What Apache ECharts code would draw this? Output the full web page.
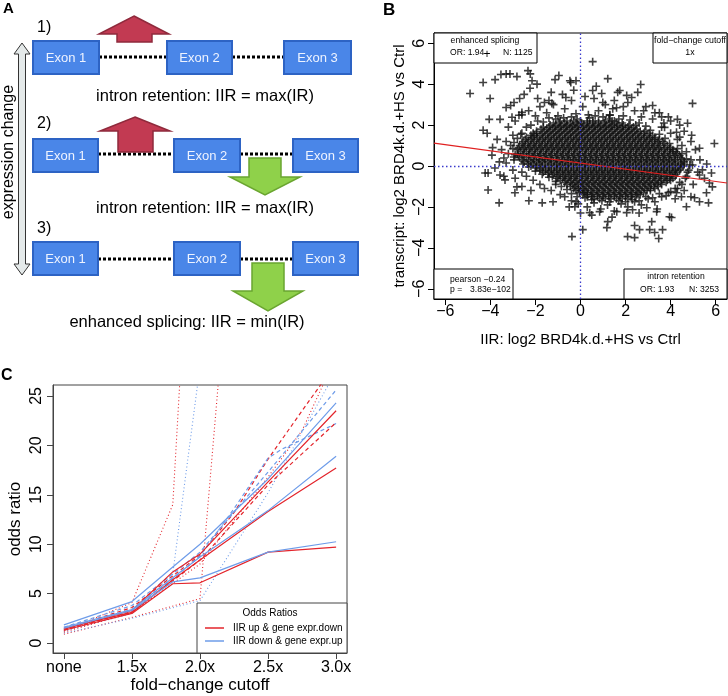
<!DOCTYPE html>
<html><head><meta charset="utf-8">
<script src="https://cdn.jsdelivr.net/npm/echarts@6/dist/echarts.min.js"></script>
<style>html,body{margin:0;padding:0;background:#fff}#c{width:728px;height:696px}</style>
</head><body><div id="c"></div>
<script>
const FONT = '"Liberation Sans", Arial, Helvetica, sans-serif';

// ---------- Panel B data ----------
const bTicks = [-6, -4, -2, 0, 2, 4, 6];
const regLine = [[-6.5, 1.12], [6.5, -0.83]];
const sparsePoints = [
[-4.9,3.54],[-4.32,4.08],[-4.01,3.3],[-3.79,4.22],[-3.53,4.47],[-3.3,4.5],[-3.13,4.5],[-2.82,4.37],[-2.33,4.66],[-2.23,4.5],[-2.15,4.17],[-2.24,3.8],[-1.93,4.0],[-2.5,3.5],[-2.7,3.3],[-1.4,3.2],[-0.96,4.42],[-0.43,4.08],[-0.2,4.17],[-0.65,3.35],[-2.95,3.1],[-3.1,2.96],[-3.3,2.86],[-4.05,2.28],[-3.57,2.28],[-4.32,1.75],[-4.14,1.6],[-3.04,2.38],[-2.73,2.48],[-2.6,2.62],[-3.93,0.53],[-3.4,0.39],[-2.95,0.44],
[0.54,5.1],[1.21,4.27],[2.67,3.98],[3.2,2.96],[4.97,3.06],[4.3,2.28],[4.93,1.5],[5.94,1.1],[-1.13,4.22],[-0.47,4.17],[-1.27,3.06],[1.74,3.69],[2.27,3.35],[2.54,3.6],[2.05,3.45],[1.65,3.6],[4.75,2.09],[5.28,0.87],[3.73,1.89],[4.26,1.65],[4.4,1.41],[0.54,3.69],[0.94,3.54],[0.99,3.1],[1.43,2.8],[1.3,2.48],
[-4.1,-0.34],[-4.23,-0.34],[-4.1,-1.17],[-3.61,-1.8],[-3.57,-0.44],[-3.35,-0.68],[-2.91,-1.31],[-2.82,-1.02],[-2.29,-1.7],[-1.7,-1.8],[-1.22,-1.75],[-0.38,-3.45],[0.1,-3.11],[-0.25,-1.99],[-0.2,-1.75],[0.41,-2.28],[0.85,-2.23],[1.21,-2.72],[1.17,-3.01],[2.09,-3.45],[2.4,-3.5],[2.4,-2.91],[2.62,-3.11],[3.16,-2.72],[3.07,-3.11],[3.29,-3.25],[3.47,-3.54],[3.64,-3.11],[3.95,-2.48],[4.04,-2.52],[1.61,-2.23],[2.05,-2.28],[2.31,-2.14],[3.38,-2.23],[2.94,-2.04],[4.7,-1.99],[5.06,-1.55],[5.28,-1.75],[5.68,-1.8],[4.48,-1.5],[4.26,-1.31],[5.59,-1.31],[5.85,-1.02],[5.72,-0.83],[5.41,-0.19],[5.81,-0.34],[4.97,0.05],[5.28,-0.44]
];
const haloPoints = [
[-2.6,2.5],[-2.3,2.7],[-2.0,2.45],[-1.8,2.9],[-1.5,2.6],[-1.2,3.0],[-1.0,2.45],[-0.7,2.8],[-0.4,3.2],[-0.2,2.55],[0.1,2.9],[0.35,2.5],[0.6,3.3],[0.8,2.7],[1.1,3.0],[1.3,2.5],[1.6,2.85],[1.9,2.45],[2.1,3.1],[2.4,2.7],[2.7,2.4],[2.9,2.9],[3.2,2.3],[3.5,2.6],[3.7,2.1],[-2.9,2.2],[-3.2,1.9],[-3.0,1.5],[-3.3,1.2],[-3.5,0.8],
[-3.6,0.2],[-3.2,0.6],[-3.0,-0.2],[-3.4,-0.5],[-2.9,-0.6],[-2.6,-0.3],[-2.4,-0.5],[-2.1,-0.7],[-1.8,-0.9],[-1.6,-1.1],[-1.3,-1.2],[-1.1,-0.9],[-0.9,-1.4],[-0.7,-1.5],[-2.6,-1.0],[-2.2,-1.2],[-3.9,0.9],[-3.7,1.3],[-3.1,1.0],[-2.95,0.3],[-3.3,0.15],[-3.8,-0.1],
[-0.4,-1.7],[-0.1,-1.85],[0.3,-2.0],[0.6,-1.8],[0.9,-2.1],[1.2,-1.9],[1.5,-2.2],[1.8,-1.85],[2.1,-2.0],[2.4,-1.75],[2.7,-1.9],[3.0,-1.6],[3.3,-1.75],[3.6,-1.5],[3.9,-1.3],[4.2,-1.1],[4.4,-0.8],[4.7,-0.5],[4.8,-0.2],[4.9,0.3],[4.7,0.7],[4.5,1.0],[4.3,1.3],[4.0,1.6],[3.6,1.9],[0.5,-2.4],[1.4,-2.5],[2.6,-2.3],[3.4,-2.1],[0.0,-2.3],[-0.5,-2.0],
[5.0,-0.9],[5.2,-0.3],[5.3,0.3],[5.1,0.8],[4.9,1.2],[5.5,-0.6],[5.6,0.1],[4.6,1.7],[4.4,2.0],[3.9,2.4],[4.2,-1.6],[4.6,-1.2],[4.9,-1.5],
[-1.9,3.3],[-1.6,3.1],[-1.3,3.6],[-0.8,3.5],[-0.3,3.7],[0.2,3.4],[0.7,3.9],[1.5,3.2],[1.9,2.9],[2.8,2.7],[3.3,2.6],[3.6,2.4],[4.0,2.2],
[-1.4,2.35],[-1.1,2.3],[-0.4,2.4],[0.4,2.35],[1.0,2.4],[1.7,2.3],[2.2,2.25],[2.6,2.1],[-1.9,2.2],[-2.2,2.0],[2.9,1.95],[3.1,1.75],[-2.4,1.9],[-2.6,1.6],[1.25,2.3],[0.65,2.45],[-0.15,2.3],[-0.75,2.35],[1.5,2.2],[2.45,2.0],[-1.65,2.15],
[3.5,1.55],[3.75,1.35],[3.95,1.1],[4.3,0.85],[4.5,0.6],[4.7,0.35],[4.85,0.05],[4.75,-0.3],[4.65,-0.6],[4.5,-0.9],[4.3,-1.1],[4.0,-1.25],[3.8,-1.45],[3.5,-1.35],
[3.2,-1.55],[2.9,-1.5],[2.6,-1.7],[2.3,-1.65],[2.0,-1.75],[1.7,-1.7],[1.3,-1.75],[0.95,-1.7],[0.5,-1.65],[0.2,-1.55],[-0.15,-1.5],[-0.4,-1.35],[-0.6,-1.15],[-0.85,-1.0],[-1.1,-0.75],[-1.4,-0.55],[-1.7,-0.4],[-2.0,-0.25],[-2.3,-0.05],
[-2.55,0.1],[-2.9,0.55],[-3.0,0.85],[-2.95,1.15],[-2.8,1.35],[-2.65,1.55]
];
const coreY = [2.2, 2.1, 2.0, 1.9, 1.8, 1.7, 1.6, 1.5, 1.4, 1.3, 1.2, 1.1, 1.0, 0.9, 0.8, 0.7, 0.6, 0.5, 0.4, 0.3, 0.2, 0.1, 0.0, -0.1, -0.2, -0.3, -0.4, -0.5, -0.6, -0.7, -0.8, -0.9, -1.0, -1.1, -1.2, -1.3, -1.4, -1.5, -1.6];
const coreX = [
[-0.9,-0.6,-0.3,0.0,0.3,0.55,0.8,1.1,1.4],
[-1.2,-0.95,-0.7,-0.45,-0.2,0.05,0.3,0.55,0.8,1.05,1.3,1.6,1.85],
[-1.35,-1.1,-0.85,-0.6,-0.35,-0.1,0.15,0.4,0.65,0.9,1.15,1.4,1.65,1.9,2.15],
[-1.65,-1.4,-1.15,-0.9,-0.65,-0.4,-0.15,0.1,0.35,0.6,0.85,1.1,1.35,1.6,1.85,2.1,2.35],
[-1.75,-1.5,-1.25,-1.0,-0.75,-0.5,-0.25,0,0.25,0.5,0.75,1.0,1.25,1.5,1.75,2.0,2.25,2.5],
[-1.95,-1.6,-1.35,-1.1,-0.85,-0.6,-0.35,-0.1,0.15,0.4,0.65,0.9,1.15,1.4,1.65,1.9,2.15,2.4,2.65,2.85],
[-2.1,-1.95,-1.7,-1.45,-1.2,-0.95,-0.7,-0.45,-0.2,0.05,0.3,0.55,0.8,1.05,1.3,1.55,1.8,2.05,2.3,2.55,2.8,3.05],
[-2.2,-2.05,-1.8,-1.55,-1.3,-1.05,-0.8,-0.55,-0.3,-0.05,0.2,0.45,0.7,0.95,1.2,1.45,1.7,1.95,2.2,2.45,2.7,2.95,3.2],
[-2.4,-2.15,-1.9,-1.65,-1.4,-1.15,-0.9,-0.65,-0.4,-0.15,0.1,0.35,0.6,0.85,1.1,1.35,1.6,1.85,2.1,2.35,2.6,2.85,3.1,3.3],
[-2.45,-2.2,-1.95,-1.7,-1.45,-1.2,-0.95,-0.7,-0.45,-0.2,0.05,0.3,0.55,0.8,1.05,1.3,1.55,1.8,2.05,2.3,2.55,2.8,3.05,3.3,3.5],
[-2.55,-2.3,-2.05,-1.8,-1.55,-1.3,-1.05,-0.8,-0.55,-0.3,-0.05,0.2,0.45,0.7,0.95,1.2,1.45,1.7,1.95,2.2,2.45,2.7,2.95,3.2,3.45,3.65],
[-2.6,-2.35,-2.1,-1.85,-1.6,-1.35,-1.1,-0.85,-0.6,-0.35,-0.1,0.15,0.4,0.65,0.9,1.15,1.4,1.65,1.9,2.15,2.4,2.65,2.9,3.15,3.4,3.7],
[-2.7,-2.45,-2.2,-1.95,-1.7,-1.45,-1.2,-0.95,-0.7,-0.45,-0.2,0.05,0.3,0.55,0.8,1.05,1.3,1.55,1.8,2.05,2.3,2.55,2.8,3.05,3.3,3.55,3.85],
[-2.75,-2.5,-2.25,-2.0,-1.75,-1.5,-1.25,-1.0,-0.75,-0.5,-0.25,0.0,0.25,0.5,0.75,1.0,1.25,1.5,1.75,2.0,2.25,2.5,2.75,3.0,3.25,3.5,3.75,4.0],
[-2.8,-2.55,-2.3,-2.05,-1.8,-1.55,-1.3,-1.05,-0.8,-0.55,-0.3,-0.05,0.2,0.45,0.7,0.95,1.2,1.45,1.7,1.95,2.2,2.45,2.7,2.95,3.2,3.45,3.7,3.95,4.1],
[-2.65,-2.4,-2.15,-1.9,-1.65,-1.4,-1.15,-0.9,-0.65,-0.4,-0.15,0.1,0.35,0.6,0.85,1.1,1.35,1.6,1.85,2.1,2.35,2.6,2.85,3.1,3.35,3.6,3.85,4.1,4.25],
[-2.8,-2.5,-2.25,-2.0,-1.75,-1.5,-1.25,-1.0,-0.75,-0.5,-0.25,0,0.25,0.5,0.75,1.0,1.25,1.5,1.75,2.0,2.25,2.5,2.75,3.0,3.25,3.5,3.75,4.0,4.3],
[-2.75,-2.55,-2.3,-2.05,-1.8,-1.55,-1.3,-1.05,-0.8,-0.55,-0.3,-0.05,0.2,0.45,0.7,0.95,1.2,1.45,1.7,1.95,2.2,2.45,2.7,2.95,3.2,3.45,3.7,3.95,4.2,4.4],
[-2.7,-2.4,-2.1,-1.85,-1.6,-1.35,-1.1,-0.85,-0.6,-0.35,-0.1,0.15,0.4,0.65,0.9,1.15,1.4,1.65,1.9,2.15,2.4,2.65,2.9,3.15,3.4,3.65,3.9,4.15,4.45],
[-2.6,-2.3,-2.05,-1.8,-1.55,-1.3,-1.05,-0.8,-0.55,-0.3,-0.05,0.2,0.45,0.7,0.95,1.2,1.45,1.7,1.95,2.2,2.45,2.7,2.95,3.2,3.45,3.7,3.95,4.2,4.5],
[-2.5,-2.2,-1.95,-1.7,-1.45,-1.2,-0.95,-0.7,-0.45,-0.2,0.05,0.3,0.55,0.8,1.05,1.3,1.55,1.8,2.05,2.3,2.55,2.8,3.05,3.3,3.55,3.8,4.05,4.3,4.6],
[-2.35,-2.1,-1.85,-1.6,-1.3,-1.05,-0.8,-0.55,-0.3,-0.05,0.2,0.45,0.7,0.95,1.2,1.45,1.7,1.95,2.2,2.45,2.7,2.95,3.2,3.45,3.7,3.95,4.2,4.45,4.6],
[-2.2,-1.95,-1.7,-1.4,-1.15,-0.9,-0.65,-0.4,-0.15,0.1,0.35,0.6,0.85,1.1,1.35,1.6,1.85,2.1,2.35,2.6,2.85,3.1,3.35,3.6,3.85,4.1,4.35,4.55],
[-2.0,-1.8,-1.55,-1.3,-1.05,-0.8,-0.55,-0.3,-0.05,0.2,0.45,0.7,0.95,1.2,1.45,1.7,1.95,2.2,2.45,2.7,2.95,3.2,3.45,3.7,3.95,4.2,4.45],
[-1.8,-1.55,-1.3,-1.05,-0.8,-0.55,-0.3,-0.05,0.2,0.45,0.7,0.95,1.2,1.45,1.7,1.95,2.2,2.45,2.7,2.95,3.2,3.45,3.7,3.95,4.2,4.4],
[-1.65,-1.4,-1.15,-0.9,-0.65,-0.4,-0.15,0.1,0.35,0.6,0.85,1.1,1.35,1.6,1.85,2.1,2.35,2.6,2.85,3.1,3.35,3.6,3.85,4.1,4.3],
[-1.45,-1.2,-0.95,-0.7,-0.45,-0.2,0.05,0.3,0.55,0.8,1.05,1.3,1.55,1.8,2.05,2.3,2.55,2.8,3.05,3.3,3.55,3.8,4.05,4.25],
[-1.25,-1.0,-0.75,-0.5,-0.25,0.0,0.25,0.5,0.75,1.0,1.25,1.5,1.75,2.0,2.25,2.5,2.75,3.0,3.25,3.5,3.75,4.0,4.2],
[-1.05,-0.8,-0.55,-0.3,-0.05,0.2,0.45,0.7,0.95,1.2,1.45,1.7,1.95,2.2,2.45,2.7,2.95,3.2,3.45,3.7,3.95,4.1],
[-0.9,-0.65,-0.4,-0.15,0.1,0.35,0.6,0.85,1.1,1.35,1.6,1.85,2.1,2.35,2.6,2.85,3.1,3.35,3.6,3.85,4.0],
[-0.7,-0.45,-0.2,0.05,0.3,0.55,0.8,1.05,1.3,1.55,1.8,2.05,2.3,2.55,2.8,3.05,3.3,3.55,3.8],
[-0.6,-0.35,-0.1,0.15,0.4,0.65,0.9,1.15,1.4,1.65,1.9,2.15,2.4,2.65,2.9,3.15,3.4,3.6],
[-0.45,-0.25,0,0.25,0.5,0.75,1.0,1.25,1.5,1.75,2.0,2.25,2.5,2.75,3.0,3.25,3.45],
[-0.3,-0.1,0.1,0.35,0.6,0.85,1.1,1.35,1.6,1.85,2.1,2.35,2.6,2.85,3.1,3.3],
[-0.2,0.0,0.2,0.45,0.7,0.95,1.2,1.45,1.7,1.95,2.2,2.45,2.7,2.95,3.1],
[-0.05,0.15,0.3,0.55,0.8,1.05,1.3,1.55,1.8,2.05,2.3,2.55,2.8],
[0.1,0.3,0.5,0.75,1.0,1.25,1.5,1.75,2.0,2.25,2.5,2.65],
[0.3,0.5,0.75,1.0,1.25,1.5,1.75,2.0,2.25,2.45],
[0.6,0.85,1.1,1.35,1.6,1.85,2.1]
];

// ---------- Panel C data ----------
const cCutoffs = [1, 1.5, 2, 2.5, 3];
const cCutoffLabels = ['none', '1.5x', '2.0x', '2.5x', '3.0x'];
const cYTicks = [0, 5, 10, 15, 20, 25];
const redSolidA  = [[1,1.4],[1.5,3.3],[1.8,7.2],[2,9.0],[2.5,16.3],[3,23.5]];
const blueSolidA = [[1,1.85],[1.5,4.2],[1.8,7.7],[2,10.0],[2.5,16.6],[3,24.3]];
const redSolidB  = [[1,1.5],[1.5,3.1],[1.8,6.4],[2,8.4],[2.5,13.3],[3,17.7]];
const blueSolidB = [[1,1.6],[1.5,3.4],[1.8,6.6],[2,8.7],[2.5,13.4],[3,18.9]];
const redSolidC  = [[1,1.3],[1.5,3.0],[1.8,6.0],[2,6.1],[2.5,9.2],[3,9.7]];
const blueSolidC = [[1,1.5],[1.5,3.3],[1.8,6.2],[2,6.6],[2.5,9.2],[3,10.25]];
const redDashA   = [[1,1.4],[1.5,3.6],[1.8,6.8],[2,8.9],[2.25,13.2],[2.5,18.6],[2.75,23.5],[3,28.3]];
const blueDashA  = [[1,1.6],[1.5,3.8],[1.8,7.0],[2,9.2],[2.5,17.3],[3,25.6]];
const blueDashB  = [[1,1.4],[1.5,3.4],[1.8,6.5],[2,8.8],[2.25,13.6],[2.5,18.7],[2.6,19.6],[3,22.2]];
const redDashB   = [[1,1.3],[1.5,3.2],[1.8,6.3],[2,8.4],[2.5,16.0],[3,22.3]];
const redDotA    = [[1,1.2],[1.5,4.1],[1.8,14.0],[2,62]];
const blueDotA   = [[1,1.2],[1.5,3.0],[1.8,7.0],[2,28]];
const redDotB    = [[1,0.9],[1.5,2.6],[2,4.5],[2.25,45]];
const blueDotB   = [[1,1.0],[1.5,2.5],[2,4.3],[2.5,15.2],[3,27.5]];
const redDotC    = [[1,1.1],[1.5,3.1],[2,8.0],[2.5,16.8],[2.75,21.5],[3,29]];

// ---------- build ----------
const corePoints = [];
coreY.forEach((y, i) => coreX[i].forEach(x => corePoints.push([x, y])));
const scatterData = sparsePoints.concat(haloPoints, corePoints);

const RED = '#e3242b', BLUE = '#6e9ce9';
const minus = v => String(v).replace('-', '\u2212');
const plusPath = 'path://M4,0h2v10h-2zM0,4h10v2h-10z';

function cLine(data, color, type, w) {
  return { type: 'line', xAxisIndex: 1, yAxisIndex: 1, data, symbol: 'none', silent: true,
    clip: true, z: 3, lineStyle: { color, width: w || 1.2, type } };
}
function txt(x, y, text, size, opts) {
  opts = opts || {};
  return { type: 'text', x, y, z: 100, rotation: opts.rot || 0,
    style: { text, fill: opts.fill || '#000', font: (opts.bold ? 'bold ' : '') + size + 'px ' + FONT,
      align: opts.align || 'left', textAlign: opts.align || 'left',
      verticalAlign: 'middle', textVerticalAlign: 'middle' } };
}
function rect(x, y, w, h, fill, stroke, lw) {
  return { type: 'rect', z: 90, shape: { x, y, width: w, height: h }, style: { fill, stroke, lineWidth: lw || 1 } };
}
function poly(points, fill, stroke, lw) {
  return { type: 'polygon', z: 95, shape: { points }, style: { fill, stroke, lineWidth: lw || 1 } };
}
function dline(x1, y1, x2, y2) {
  return { type: 'line', z: 80, shape: { x1, y1, x2, y2 }, style: { stroke: '#000', lineWidth: 3, lineDash: [3, 2] } };
}
function exon(x, y, w, label) {
  return [rect(x, y, w, 33, '#4a86e8', '#2d63c4', 2), txt(x + w / 2, y + 17, label, 13, { align: 'center', fill: '#eef3ff' })];
}
function upArrow(cx, tip, headBase, bottom, fill, stroke) {
  return poly([[cx, tip], [cx + 35, headBase], [cx + 18, headBase], [cx + 18, bottom], [cx - 17, bottom], [cx - 17, headBase], [cx - 35, headBase]], fill, stroke, 1.5);
}
function downArrow(cx, top, headBase, tip) {
  return poly([[cx - 16, top], [cx + 16, top], [cx + 16, headBase], [cx + 35, headBase], [cx, tip], [cx - 35, headBase], [cx - 16, headBase]], '#8fd14a', '#6aa530', 1.5);
}

const RF = '#c23a52', RS = '#8f2a3c';
let graphics = [];
// Panel A
graphics.push(txt(3, 9, 'A', 15, { bold: true }));
graphics.push(txt(37, 28, '1)', 16));
graphics.push(txt(37, 124, '2)', 16));
graphics.push(txt(37, 229, '3)', 16));
graphics.push(dline(99, 57, 167, 57), dline(232, 57, 284, 57));
graphics.push(upArrow(134, 16, 34, 42, RF, RS));
graphics = graphics.concat(exon(33, 41, 66, 'Exon 1'), exon(167, 41, 65, 'Exon 2'), exon(284, 41, 67, 'Exon 3'));
graphics.push(txt(205, 96, 'intron retention: IIR = max(IR)', 16.5, { align: 'center' }));
graphics.push(dline(98, 154, 174, 154), dline(240, 154, 293, 154));
graphics.push(upArrow(135, 117, 131, 152, RF, RS));
graphics.push(downArrow(265, 158, 177, 195));
graphics = graphics.concat(exon(33, 139, 65, 'Exon 1'), exon(174, 139, 66, 'Exon 2'), exon(293, 139, 65, 'Exon 3'));
graphics.push(txt(205, 208, 'intron retention: IIR = max(IR)', 16.5, { align: 'center' }));
graphics.push(dline(98, 259, 174, 259), dline(240, 259, 293, 259));
graphics.push(downArrow(268, 263, 291, 311));
graphics = graphics.concat(exon(33, 242, 65, 'Exon 1'), exon(174, 242, 66, 'Exon 2'), exon(293, 242, 65, 'Exon 3'));
graphics.push(txt(187, 322, 'enhanced splicing: IIR = min(IR)', 16.5, { align: 'center' }));
graphics.push(poly([[22, 43], [30, 54], [25.5, 54], [25.5, 264], [30, 264], [22, 275], [14, 264], [18.5, 264], [18.5, 54], [14, 54]], '#e4e9e9', '#333', 1));
graphics.push(txt(9, 152, 'expression change', 16, { align: 'center', rot: Math.PI / 2 }));

// Panel B
graphics.push(txt(383, 10, 'B', 17, { bold: true }));
graphics.push(rect(434, 33, 103, 30, '#fff', '#000'));
graphics.push(txt(485, 41, 'enhanced splicing', 8.6, { align: 'center' }));
graphics.push(txt(450, 53, 'OR: 1.94', 8.6));
graphics.push(txt(487, 55, '+', 12, { align: 'center' }));
graphics.push(txt(503, 53, 'N: 1125', 8.6));
graphics.push(rect(653, 33, 74, 30, '#fff', '#000'));
graphics.push(txt(690, 41, 'fold\u2212change cutoff', 8.8, { align: 'center' }));
graphics.push(txt(690, 53, '1x', 8.8, { align: 'center' }));
graphics.push(rect(434, 269, 79, 30, '#fff', '#000'));
graphics.push(txt(450, 280, 'pearson \u22120.24', 8.6));
graphics.push(txt(450, 290, 'p =', 8.6));
graphics.push(txt(470, 290, '3.83e\u2212102', 8.6));
graphics.push(rect(624, 269, 103, 30, '#fff', '#000'));
graphics.push(txt(676, 277, 'intron retention', 8.6, { align: 'center' }));
graphics.push(txt(640, 290, 'OR: 1.93', 8.6));
graphics.push(txt(689, 290, 'N: 3253', 8.6));

// Panel C
graphics.push(txt(1, 376, 'C', 16, { bold: true }));
graphics.push(rect(197, 603, 150, 50, '#fff', '#444'));
graphics.push(txt(270, 613, 'Odds Ratios', 10, { align: 'center' }));
graphics.push({ type: 'line', z: 100, shape: { x1: 205, y1: 628, x2: 224, y2: 628 }, style: { stroke: RED, lineWidth: 1.5 } });
graphics.push({ type: 'line', z: 100, shape: { x1: 205, y1: 641, x2: 224, y2: 641 }, style: { stroke: BLUE, lineWidth: 1.5 } });
graphics.push(txt(233, 628, 'IIR up & gene expr.down', 10));
graphics.push(txt(233, 641, 'IIR down & gene expr.up', 10));

const axisFont = { fontFamily: FONT, color: '#000' };
const chart = echarts.init(document.getElementById('c'));
chart.setOption({
  animation: false,
  grid: [
    { left: 434, top: 33, width: 293, height: 266, show: true, borderColor: '#000', borderWidth: 1 },
    { left: 53, top: 385, width: 294, height: 268, show: true, borderColor: '#444', borderWidth: 1 }
  ],
  xAxis: [
    { gridIndex: 0, type: 'value', min: -6.5, max: 6.5,
      axisLine: { show: true, onZero: false, lineStyle: { color: '#000' } }, splitLine: { show: false },
      axisTick: { show: true, length: 6, customValues: bTicks, lineStyle: { color: '#000' } },
      axisLabel: Object.assign({ customValues: bTicks, formatter: minus, fontSize: 16, margin: 5 }, axisFont),
      name: 'IIR: log2 BRD4k.d.+HS vs Ctrl', nameLocation: 'middle', nameGap: 33,
      nameTextStyle: Object.assign({ fontSize: 15 }, axisFont) },
    { gridIndex: 1, type: 'value', min: 0.92, max: 3.08,
      axisLine: { show: true, onZero: false, lineStyle: { color: '#444' } }, splitLine: { show: false },
      axisTick: { show: true, length: 6, customValues: cCutoffs, lineStyle: { color: '#444' } },
      axisLabel: Object.assign({ customValues: cCutoffs, fontSize: 16, margin: 7,
        formatter: v => { const i = cCutoffs.findIndex(c => Math.abs(c - v) < 1e-6); return i >= 0 ? cCutoffLabels[i] : ''; } }, axisFont),
      name: 'fold\u2212change cutoff', nameLocation: 'middle', nameGap: 24,
      nameTextStyle: Object.assign({ fontSize: 17 }, axisFont) }
  ],
  yAxis: [
    { gridIndex: 0, type: 'value', min: -6.5, max: 6.5,
      axisLine: { show: true, onZero: false, lineStyle: { color: '#000' } }, splitLine: { show: false },
      axisTick: { show: true, length: 6, customValues: bTicks, lineStyle: { color: '#000' } },
      axisLabel: Object.assign({ customValues: bTicks, formatter: minus, fontSize: 16, margin: 6, rotate: 90 }, axisFont),
      name: 'transcript: log2 BRD4k.d.+HS vs Ctrl', nameLocation: 'middle', nameGap: 27,
      nameTextStyle: Object.assign({ fontSize: 15 }, axisFont) },
    { gridIndex: 1, type: 'value', min: -1, max: 26.1,
      axisLine: { show: true, onZero: false, lineStyle: { color: '#444' } }, splitLine: { show: false },
      axisTick: { show: true, length: 6, customValues: cYTicks, lineStyle: { color: '#444' } },
      axisLabel: Object.assign({ customValues: cYTicks, fontSize: 16, margin: 8, rotate: 90 }, axisFont),
      name: 'odds ratio', nameLocation: 'middle', nameGap: 29,
      nameTextStyle: Object.assign({ fontSize: 17 }, axisFont) }
  ],
  series: [
    { type: 'line', xAxisIndex: 0, yAxisIndex: 0, data: [], z: 1, silent: true,
      markLine: { silent: true, symbol: 'none', label: { show: false }, animation: false,
        lineStyle: { color: '#3a3acc', width: 1.3, type: [1.5, 2.5] },
        data: [{ xAxis: 0 }, { yAxis: 0 }] } },
    { type: 'scatter', xAxisIndex: 0, yAxisIndex: 0, data: scatterData, symbol: plusPath, symbolSize: 8,
      itemStyle: { color: '#111' }, z: 2, silent: true },
    { type: 'line', xAxisIndex: 0, yAxisIndex: 0, data: regLine, symbol: 'none', silent: true, z: 3,
      lineStyle: { color: '#e02020', width: 1.2 } },
    cLine(redDotA, RED, [1, 2.5], 1.1), cLine(blueDotA, BLUE, [1, 2.5], 1.1),
    cLine(redDotB, RED, [1, 2.5], 1.1), cLine(blueDotB, BLUE, [1, 2.5], 1.1), cLine(redDotC, RED, [1, 2.5], 1.1),
    cLine(redDashA, RED, [4, 3]), cLine(blueDashA, BLUE, [4, 3]), cLine(blueDashB, BLUE, [4, 3]), cLine(redDashB, RED, [4, 3]),
    cLine(redSolidA, RED), cLine(blueSolidA, BLUE), cLine(redSolidB, RED), cLine(blueSolidB, BLUE),
    cLine(redSolidC, RED), cLine(blueSolidC, BLUE)
  ],
  graphic: { elements: graphics }
});
</script></body></html>
